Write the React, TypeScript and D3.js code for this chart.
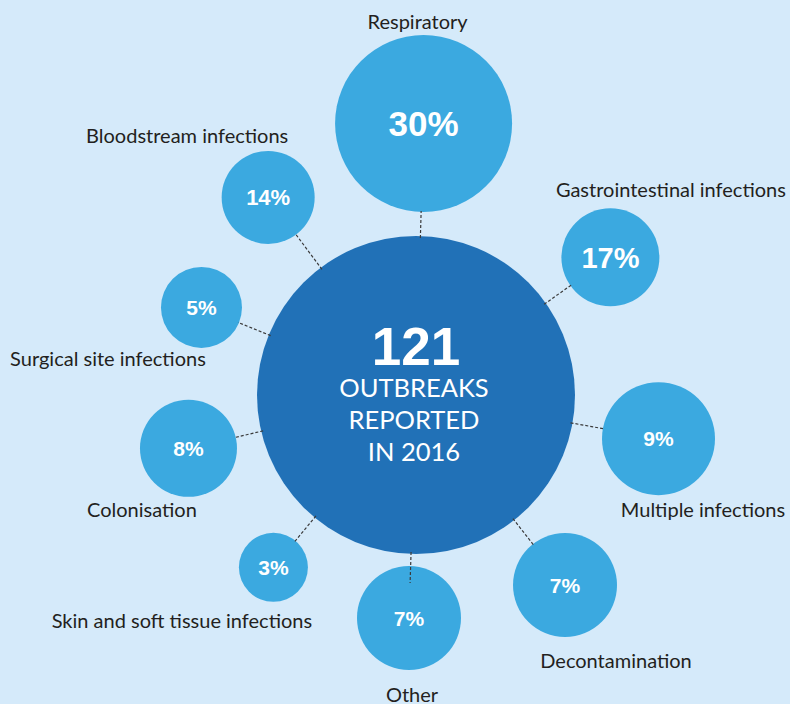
import { useEffect, useRef } from "react";
import * as d3 from "d3";

// data
const CATEGORIES = [
  "Respiratory",
  "Gastrointestinal infections",
  "Multiple infections",
  "Decontamination",
  "Other",
  "Skin and soft tissue infections",
  "Colonisation",
  "Surgical site infections",
  "Bloodstream infections",
];
const SHARES = [30, 17, 9, 7, 7, 3, 8, 5, 14];
const TOTAL_OUTBREAKS = 121;
const CENTER_LINES = ["OUTBREAKS", "REPORTED", "IN 2016"];

// layout (infographic placement, not data): angle clockwise from 12 o'clock,
// distance from hub centre, bubble radius, label offset, percent font size
const ANGLES = [1.6, 54.7, 100.2, 141.9, 181.8, 219.6, 256.8, 292.2, 323.2];
const DISTANCES = [271.6, 238.2, 246.4, 241.5, 223.1, 223.7, 233.7, 231.7, 246.8];
const RADII = [88.5, 49, 56.5, 52, 52, 34.5, 48.5, 40.5, 46.5];
const LABEL_DX = [-6, 60.5, 44.5, 51, 3, -91.5, -46.5, -93.5, -81];
const LABEL_DY = [-94.5, -60.5, 78.5, 83, 84, 60.5, 68.5, 58.5, -54.5];
const PCT_SIZE = [35, 29, 21, 21, 21, 21, 21, 21, 22];
// connector overshoot into the bubble (the "Other" line runs over it)
const OVERSHOOT = [0, 0, 0, 0, 16, 0, 0, 0, 0];

const BG = "#d5eafa";
const HUB = "#2171b7";
const BUBBLE = "#3ba9e0";
const INK = "#231f20";

export default function App() {
  const svgRef = useRef<SVGSVGElement>(null);

  useEffect(() => {
    if (!svgRef.current) return;
    const width = 790;
    const height = 704;
    const hub = { x: 416, y: 395, r: 159 };

    const svg = d3.select(svgRef.current);
    svg.selectAll("*").remove();
    svg.attr("width", width).attr("height", height).attr("viewBox", `0 0 ${width} ${height}`);

    svg.append("rect").attr("width", width).attr("height", height).attr("fill", BG);

    const nodes = CATEGORIES.map((name, i) => {
      const a = (ANGLES[i] * Math.PI) / 180;
      const [dx, dy] = d3.pointRadial(a, DISTANCES[i]);
      return { name, value: SHARES[i], x: hub.x + dx, y: hub.y + dy, r: RADII[i], i, a };
    });

    // hub
    svg.append("circle").attr("cx", hub.x).attr("cy", hub.y).attr("r", hub.r).attr("fill", HUB);

    // bubbles
    const g = svg.append("g").selectAll("g").data(nodes).join("g");

    g.append("circle")
      .attr("cx", (d) => d.x)
      .attr("cy", (d) => d.y)
      .attr("r", (d) => d.r)
      .attr("fill", BUBBLE);

    // connectors
    const end = (d: any) => d3.pointRadial(d.a, DISTANCES[d.i] - d.r + 1 + OVERSHOOT[d.i]);
    svg
      .append("g")
      .selectAll("line")
      .data(nodes)
      .join("line")
      .attr("x1", (d) => hub.x + d3.pointRadial(d.a, hub.r - 2)[0])
      .attr("y1", (d) => hub.y + d3.pointRadial(d.a, hub.r - 2)[1])
      .attr("x2", (d) => hub.x + end(d)[0])
      .attr("y2", (d) => hub.y + end(d)[1])
      .attr("stroke", "#3a3a3a")
      .attr("stroke-width", 1.2)
      .attr("stroke-dasharray", "3 2");

    svg
      .append("text")
      .attr("x", hub.x)
      .attr("y", 365)
      .attr("text-anchor", "middle")
      .attr("font-family", "'Liberation Sans', Arial, sans-serif")
      .attr("font-weight", 700)
      .attr("font-size", 53)
      .attr("fill", "#fff")
      .text(TOTAL_OUTBREAKS);

    svg
      .append("g")
      .selectAll("text")
      .data(CENTER_LINES)
      .join("text")
      .attr("x", hub.x - 2)
      .attr("y", (_, i) => 397 + i * 32)
      .attr("text-anchor", "middle")
      .attr("font-family", "Lato, sans-serif")
      .attr("font-size", 25.5)
      .attr("fill", "#fff")
      .text((d) => d);

    g.append("text")
      .attr("x", (d) => d.x)
      .attr("y", (d) => d.y)
      .attr("dy", "0.36em")
      .attr("text-anchor", "middle")
      .attr("font-family", "'Liberation Sans', Arial, sans-serif")
      .attr("font-weight", 700)
      .attr("font-size", (d) => PCT_SIZE[d.i])
      .attr("fill", "#fff")
      .text((d) => `${d.value}%`);

    g.append("text")
      .attr("x", (d) => d.x + LABEL_DX[d.i])
      .attr("y", (d) => d.y + LABEL_DY[d.i])
      .attr("text-anchor", "middle")
      .attr("font-family", "Lato, sans-serif")
      .attr("font-size", 20)
      .attr("fill", INK)
      .text((d) => d.name);
  }, []);

  return (
    <svg
      ref={svgRef}
      style={{ position: "absolute", left: 0, top: 0, display: "block" }}
    />
  );
}
